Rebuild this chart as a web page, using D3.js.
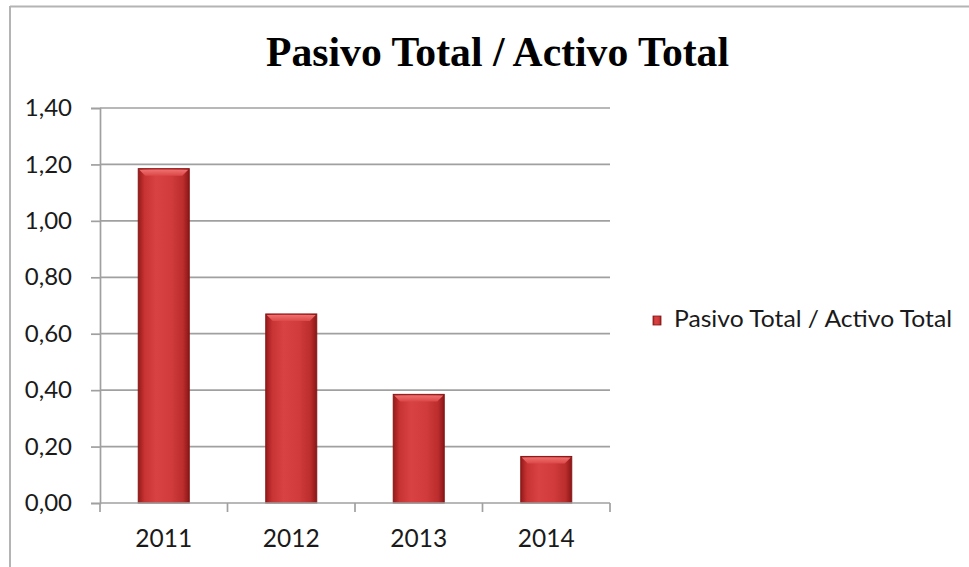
<!DOCTYPE html>
<html>
<head>
<meta charset="utf-8">
<script src="https://cdn.jsdelivr.net/npm/d3@7"></script>
<style>
  html, body { margin: 0; padding: 0; background: #fff; }
  svg { display: block; }
</style>
</head>
<body>
<svg id="chart" width="969" height="567"></svg>
<script>
// Ratio of total liabilities to total assets, by year
const years = ["2011", "2012", "2013", "2014"];
const ratios = [1.185, 0.67, 0.385, 0.165];
const yTicks = [0, 0.2, 0.4, 0.6, 0.8, 1.0, 1.2, 1.4];
const title = "Pasivo Total / Activo Total";
const seriesName = "Pasivo Total / Activo Total";

const svg = d3.select("#chart");
const W = 969, H = 567;
const plot = { left: 100, right: 610, top: 108, bottom: 503 };
const font = "Lato, 'Open Sans', sans-serif";

const fmt = v => d3.format(".2f")(v).replace(".", ",");

// Gradients for the bevelled bar look
const defs = svg.append("defs");
const g = defs.append("linearGradient").attr("id", "barFill")
  .attr("x1", "0%").attr("x2", "100%").attr("y1", "0%").attr("y2", "0%");
[[0, "#961a1a"], [0.12, "#c73232"], [0.35, "#d84242"], [0.65, "#d13b3b"], [0.88, "#bb2d2d"], [1, "#8a1616"]]
  .forEach(([o, c]) => g.append("stop").attr("offset", o).attr("stop-color", c));
const gt = defs.append("linearGradient").attr("id", "bevelFill")
  .attr("x1", "0%").attr("x2", "0%").attr("y1", "0%").attr("y2", "100%");
[[0, "#f07070"], [1, "#dc4848"]]
  .forEach(([o, c]) => gt.append("stop").attr("offset", o).attr("stop-color", c));

// Outer frame (top and left edges)
svg.append("line").attr("x1", 10).attr("x2", W).attr("y1", 6.5).attr("y2", 6.5)
  .attr("stroke", "#b4b4b4").attr("stroke-width", 2);
svg.append("line").attr("x1", 10).attr("x2", 10).attr("y1", 6).attr("y2", H)
  .attr("stroke", "#b4b4b4").attr("stroke-width", 2);

// Title
svg.append("text")
  .attr("x", 497.5).attr("y", 66)
  .attr("text-anchor", "middle")
  .attr("font-family", "'Liberation Serif', 'Times New Roman', serif")
  .attr("font-weight", "bold")
  .attr("font-size", 43)
  .attr("textLength", 463).attr("lengthAdjust", "spacingAndGlyphs")
  .attr("fill", "#000")
  .text(title);

const x = d3.scaleBand().domain(years).range([plot.left, plot.right]).paddingInner(0.6).paddingOuter(0.3);
const xTicks = d3.scaleBand().domain(years).range([plot.left, plot.right]);
const y = d3.scaleLinear().domain([0, 1.4]).range([plot.bottom, plot.top]);

// Gridlines
svg.append("g").selectAll("line").data(yTicks.filter(t => t > 0)).join("line")
  .attr("x1", plot.left).attr("x2", plot.right)
  .attr("y1", d => y(d)).attr("y2", d => y(d))
  .attr("stroke", "#a0a0a0").attr("stroke-width", 1.7);

// Y axis
const yAxis = svg.append("g").attr("transform", `translate(${plot.left},0)`)
  .call(d3.axisLeft(y).tickValues(yTicks).tickFormat(fmt).tickSize(9).tickPadding(19));
yAxis.select(".domain").attr("stroke", "#a0a0a0").attr("stroke-width", 1.7);
yAxis.selectAll(".tick line").attr("stroke", "#a0a0a0").attr("stroke-width", 1.7);
yAxis.selectAll(".tick text")
  .attr("font-family", font).attr("font-size", 24).attr("fill", "#1a1a1a");

// Bars
const bars = svg.append("g").selectAll("g").data(years.map((yr, i) => ({ yr, v: ratios[i] }))).join("g");
bars.append("rect")
  .attr("x", d => x(d.yr)).attr("width", x.bandwidth())
  .attr("y", d => y(d.v)).attr("height", d => y(0) - y(d.v))
  .attr("fill", "url(#barFill)")
  .attr("stroke", "#861616").attr("stroke-width", 1);
// top bevel highlight
bars.append("path")
  .attr("d", d => {
    const x0 = x(d.yr) + 1, x1 = x(d.yr) + x.bandwidth() - 1, t = y(d.v) + 1, b = t + 6;
    return `M${x0},${t} L${x1},${t} L${x1 - 6},${b} L${x0 + 6},${b} Z`;
  })
  .attr("fill", "url(#bevelFill)");

// X axis
const xAxisG = svg.append("g").attr("transform", `translate(0,${plot.bottom})`);
xAxisG.append("line").attr("x1", plot.left).attr("x2", plot.right).attr("y1", 0).attr("y2", 0)
  .attr("stroke", "#a0a0a0").attr("stroke-width", 1.7);
const tickXs = [plot.left].concat(years.map(yr => xTicks(yr) + xTicks.bandwidth()));
xAxisG.selectAll("line.tk").data(tickXs).join("line").attr("class", "tk")
  .attr("x1", d => d).attr("x2", d => d).attr("y1", 0).attr("y2", 9)
  .attr("stroke", "#a0a0a0").attr("stroke-width", 1.7);
xAxisG.selectAll("text").data(years).join("text")
  .attr("x", d => xTicks(d) + xTicks.bandwidth() / 2).attr("y", 44)
  .attr("text-anchor", "middle")
  .attr("font-family", font).attr("font-size", 24.5).attr("fill", "#1a1a1a")
  .text(d => d);

// Legend
const lg = svg.append("g").attr("transform", "translate(653,316)");
lg.append("rect").attr("width", 8).attr("height", 9)
  .attr("fill", "url(#barFill)").attr("stroke", "#861616").attr("stroke-width", 0.8);
lg.append("text").attr("x", 21).attr("y", 11)
  .attr("font-family", font).attr("font-size", 23.5).attr("fill", "#1a1a1a")
  .attr("textLength", 278).attr("lengthAdjust", "spacingAndGlyphs")
  .text(seriesName);
</script>
</body>
</html>
